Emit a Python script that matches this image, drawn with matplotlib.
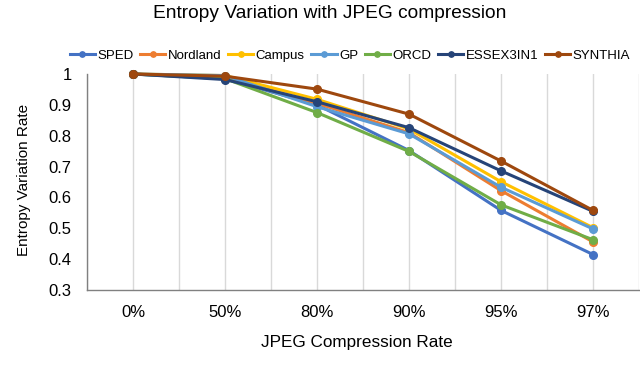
import matplotlib
matplotlib.use("Agg")
import matplotlib.pyplot as plt
from matplotlib.ticker import FuncFormatter

categories = ["0%", "50%", "80%", "90%", "95%", "97%"]
series_names = ["SPED", "Nordland", "Campus", "GP", "ORCD", "ESSEX3IN1", "SYNTHIA"]
sped      = [1.0, 0.985, 0.900, 0.752, 0.558, 0.415]
nordland  = [1.0, 0.990, 0.905, 0.810, 0.622, 0.456]
campus    = [1.0, 0.995, 0.918, 0.822, 0.651, 0.502]
gp        = [1.0, 0.995, 0.894, 0.806, 0.633, 0.498]
orcd      = [1.0, 0.985, 0.875, 0.749, 0.576, 0.463]
essex     = [1.0, 0.982, 0.910, 0.826, 0.686, 0.555]
synthia   = [1.0, 0.993, 0.951, 0.870, 0.718, 0.558]
colors = ["#4472C4", "#ED7D31", "#FFC000", "#5B9BD5", "#70AD47", "#264478", "#9E480E"]
values = [sped, nordland, campus, gp, orcd, essex, synthia]
yticks = [0.3, 0.4, 0.5, 0.6, 0.7, 0.8, 0.9, 1.0]

plt.rcParams['font.family'] = ['Liberation Sans', 'DejaVu Sans']
fig = plt.figure(figsize=(6.4, 3.81), dpi=100)
ax = fig.add_axes([87/640, 1-290/381, (639-87)/640, (290-74)/381])
x = list(range(len(categories)))
for name, vals, c in zip(series_names, values, colors):
    ax.plot(x, vals, color=c, lw=2.2, marker='o', ms=5.5, label=name, clip_on=False)

ax.set_xlim(-0.5, len(categories) - 0.5)
ax.set_ylim(0.3, 1.0)
ax.set_xticks(x)
ax.set_xticklabels(categories, fontsize=12)
ax.set_xticks([i + 0.5 for i in range(-1, len(categories))], minor=True)
ax.set_yticks(yticks)
ax.yaxis.set_major_formatter(FuncFormatter(lambda v, p: f"{v:g}"))
ax.tick_params(axis='y', labelsize=12, length=0, pad=11)
ax.tick_params(axis='x', which='both', length=0, pad=11)
ax.grid(axis='x', which='both', color='#d9d9d9', lw=1)
ax.set_axisbelow(True)
for s in ['top', 'right']:
    ax.spines[s].set_visible(False)
for s in ['left', 'bottom']:
    ax.spines[s].set_color('#808080')
    ax.spines[s].set_linewidth(1)

fig.text(330/640, 1-13/381, "Entropy Variation with JPEG compression", ha='center', va='center', fontsize=13.8)
fig.text(357/640, 1-342/381, "JPEG Compression Rate", ha='center', va='center', fontsize=12.3)
fig.text(24/640, 1-180/381, "Entropy Variation Rate", ha='center', va='center', rotation=90, fontsize=11)

fig.legend(loc='center', bbox_to_anchor=(350/640, 1-56/381), ncol=7, frameon=False,
           fontsize=9.5, handlelength=1.9, handletextpad=0.2, columnspacing=0.5,
           markerscale=0.7, borderpad=0, borderaxespad=0)

fig.savefig("out.png", dpi=100)
